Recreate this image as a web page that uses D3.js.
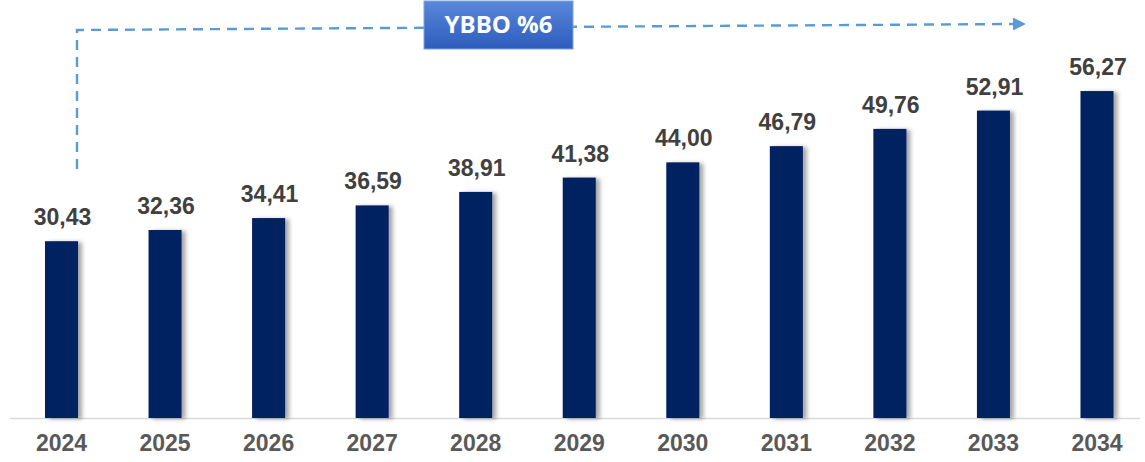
<!DOCTYPE html>
<html><head><meta charset="utf-8">
<script src="https://cdn.jsdelivr.net/npm/d3@7"></script>
<style>html,body{margin:0;padding:0;background:#fff;}svg{display:block;}</style>
</head><body>
<svg id="c" width="1145" height="462"></svg>
<script>
const years = ["2024","2025","2026","2027","2028","2029","2030","2031","2032","2033","2034"];
const values = [30.43,32.36,34.41,36.59,38.91,41.38,44.00,46.79,49.76,52.91,56.27];
const valueLabels = ["30,43","32,36","34,41","36,59","38,91","41,38","44,00","46,79","49,76","52,91","56,27"];
const badgeText = "YBBO %6";

const svg = d3.select("#c");
const defs = svg.append("defs");
const f = defs.append("filter").attr("id","sh").attr("x","-50%").attr("y","-10%").attr("width","200%").attr("height","120%");
f.append("feDropShadow").attr("dx",4).attr("dy",1).attr("stdDeviation",2.2).attr("flood-color","#000").attr("flood-opacity",0.35);
const g = defs.append("linearGradient").attr("id","bg").attr("x1",0).attr("y1",0).attr("x2",0).attr("y2",1);
g.append("stop").attr("offset","0%").attr("stop-color","#5a88da");
g.append("stop").attr("offset","100%").attr("stop-color","#2d5cbd");
const mk = defs.append("marker").attr("id","ar").attr("viewBox","0 0 10 10").attr("refX",0).attr("refY",5)
  .attr("markerWidth",6.2).attr("markerHeight",5.4).attr("orient","auto").attr("markerUnits","strokeWidth");
mk.append("path").attr("d","M0,0L10,5L0,10Z").attr("fill","#5b9bd5");

const step = 103.55;
const x = d3.scaleBand().domain(years).range([61.5 - step/2, 1097 + step/2]).paddingInner(0.681).paddingOuter(0.3405);
const y = d3.scaleLinear().domain([0,60]).range([418, 418 - 60*5.81]);

// axis baseline
svg.append("line").attr("x1",10).attr("x2",1140).attr("y1",418.5).attr("y2",418.5)
  .attr("stroke","#d9d9d9").attr("stroke-width",1.5);

// bars
svg.selectAll("rect.bar").data(values).join("rect").attr("class","bar")
  .attr("x",(d,i)=>x(years[i])).attr("width",x.bandwidth())
  .attr("y",d=>y(d)).attr("height",d=>y(0)-y(d))
  .attr("fill","#002060").attr("filter","url(#sh)");

// value labels
svg.selectAll("text.val").data(values).join("text").attr("class","val")
  .attr("x",(d,i)=>x(years[i])+x.bandwidth()/2+1).attr("y",d=>y(d)-16)
  .attr("text-anchor","middle").attr("font-family","Liberation Sans, Arial, sans-serif")
  .attr("font-weight","bold").attr("font-size",23).attr("fill","#404040")
  .text((d,i)=>valueLabels[i]);

// x axis labels
const xa = svg.append("g").attr("transform","translate(0,418)")
  .call(d3.axisBottom(x).tickSize(0).tickPadding(17));
xa.select(".domain").remove();
xa.selectAll("text").attr("font-family","Liberation Sans, Arial, sans-serif")
  .attr("font-weight","bold").attr("font-size",23).attr("fill","#595959")
  .attr("dy","0.71em");

// dashed CAGR line
const cx = x(years[0]) + x.bandwidth()/2 + 15.5;
svg.append("path").attr("d",`M${cx},169 L${cx},30 L1013,24`)
  .attr("fill","none").attr("stroke","#5b9bd5").attr("stroke-width",2.4)
  .attr("stroke-dasharray","10,7").attr("marker-end","url(#ar)");

// badge
svg.append("rect").attr("x",424).attr("y",1).attr("width",149).attr("height",48)
  .attr("fill","url(#bg)").attr("stroke","#7fa3e0").attr("stroke-width",1);
svg.append("text").attr("x",498.5).attr("y",33).attr("text-anchor","middle")
  .attr("font-family","Open Sans, sans-serif").attr("font-weight","bold").attr("font-size",24)
  .attr("fill","#fff").text(badgeText);
</script>
</body></html>
